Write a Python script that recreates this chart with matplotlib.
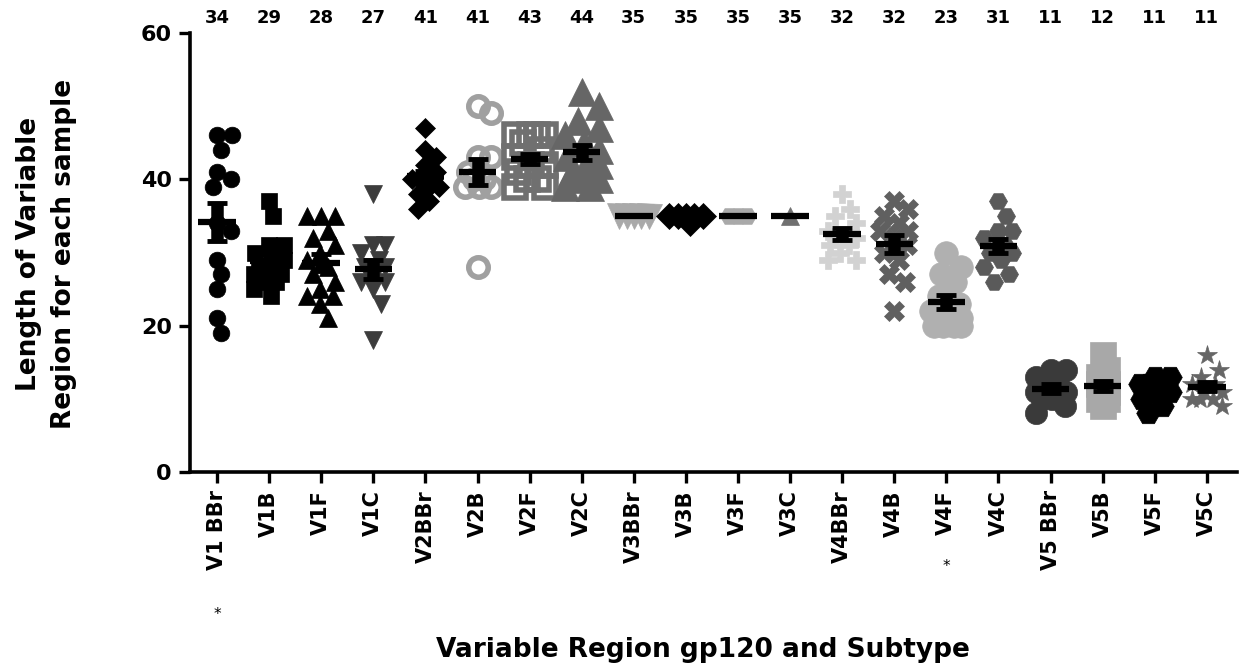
import numpy as np
import matplotlib
matplotlib.use("Agg")
import matplotlib.pyplot as plt
from matplotlib.transforms import blended_transform_factory

plt.rcParams['font.family'] = ['DejaVu Sans']

categories = ["V1 BBr", "V1B", "V1F", "V1C", "V2BBr", "V2B", "V2F", "V2C",
              "V3BBr", "V3B", "V3F", "V3C", "V4BBr", "V4B", "V4F", "V4C",
              "V5 BBr", "V5B", "V5F", "V5C"]
top_labels = ["34", "29", "28", "27", "41", "41", "43", "44", "35", "35",
              "35", "35", "32", "32", "23", "31", "11", "12", "11", "11"]

v1_bbr = [46, 46, 44, 41, 40, 39, 34, 33, 29, 27, 25, 21, 19]
v1_b = [37, 35, 31, 31, 30, 29, 29, 28, 28, 27, 27, 26, 26, 25, 24]
v1_f = [35, 35, 35, 33, 32, 31, 30, 29, 28, 27, 26, 25, 24, 24, 23, 21]
v1_c = [38, 31, 31, 30, 29, 28, 28, 27, 26, 26, 25, 23, 18]
v2_bbr = [47, 44, 43, 42, 41, 40, 40, 40, 40, 39, 39, 38, 37, 36]
v2_b = [50, 49, 43, 43, 41, 40, 40, 39, 39, 39, 28]
v2_f = [46, 46, 46, 46, 45, 44, 43, 42, 42, 41, 40, 40, 39, 39]
v2_c = [52, 50, 48, 47, 46, 45, 44, 43, 42, 42, 41, 41, 40, 40, 39, 39]
v3_bbr = [35, 35, 35, 35, 35]
v3_b = [35, 35, 35, 35, 35, 34]
v3_f = [35, 35, 35]
v3_c = [35]
v4_bbr = [38, 36, 35, 34, 33, 32, 32, 31, 31, 30, 29, 29]
v4_b = [37, 36, 35, 34, 33, 33, 32, 31, 30, 29, 27, 26, 22]
v4_f = [30, 28, 27, 26, 24, 23, 22, 21, 21, 20, 20, 20, 20]
v4_c = [37, 35, 33, 33, 32, 31, 30, 30, 29, 28, 27, 26]
v5_bbr = [14, 14, 13, 13, 12, 11, 11, 10, 10, 9, 8]
v5_b = [16, 14, 13, 12, 12, 11, 11, 10, 10, 9]
v5_f = [13, 13, 12, 12, 12, 11, 11, 10, 9, 8]
v5_c = [16, 14, 13, 12, 12, 11, 11, 10, 10, 10, 9]

series = [v1_bbr, v1_b, v1_f, v1_c, v2_bbr, v2_b, v2_f, v2_c,
          v3_bbr, v3_b, v3_f, v3_c, v4_bbr, v4_b, v4_f, v4_c,
          v5_bbr, v5_b, v5_f, v5_c]

# marker styles: (marker, size pt, colour, open?, max half-spread px)
styles = [
    ('o', 12, '#000000', False, 15), ('s', 12, '#000000', False, 15),
    ('^', 13, '#000000', False, 14), ('v', 13, '#3c3c3c', False, 12),
    ('D', 10, '#000000', False, 14), ('o', 14, '#a0a0a0', True, 13),
    ('s', 16, '#707070', True, 15), ('^', 20, '#666666', False, 17),
    ('v', 18, '#a9a9a9', False, 15), ('D', 13, '#000000', False, 17),
    ('H', 13, '#a9a9a9', False, 9), ('^', 13, '#707070', False, 0),
    ('P', 13, '#d2d2d2', False, 14), ('X', 14, '#606060', False, 14),
    ('o', 17, '#b0b0b0', False, 15), ('H', 13, '#5a5a5a', False, 14),
    ('o', 16, '#3a3a3a', False, 15), ('s', 19, '#a8a8a8', False, 4),
    ('H', 17, '#000000', False, 15), ('*', 15, '#666666', False, 15),
]

fig = plt.figure(figsize=(12.44, 6.68), dpi=100)
ax = fig.add_axes([0.1527, 0.2934, 0.8417, 0.6572])
xmin, xmax = -0.52, 19.58
ymin, ymax = 0, 60
ax.set_xlim(xmin, xmax)
ax.set_ylim(ymin, ymax)

ppx = ax.bbox.width / (xmax - xmin)
ppy = ax.bbox.height / (ymax - ymin)


def swarm(vals, dpx, lim, factor=0.9):
    """bounded beeswarm offsets in pixels"""
    order = np.argsort(-np.asarray(vals), kind='stable')
    placed = []
    offs = np.zeros(len(vals))
    mind = dpx * factor
    cands = [0.0]
    for k in range(1, int(lim) + 1):
        cands += [float(k), float(-k)]
    for idx in order:
        y = vals[idx] * ppy
        chosen = None
        best_score, best_x = -1, 0.0
        for x in cands:
            if placed:
                dmin = min(np.hypot(x - px, y - py) for px, py in placed)
            else:
                dmin = 1e9
            if dmin >= mind:
                chosen = x
                break
            if dmin > best_score + 1e-9:
                best_score, best_x = dmin, x
        if chosen is None:
            chosen = best_x
        placed.append((chosen, y))
        offs[idx] = chosen
    return offs


for i, (vals, st) in enumerate(zip(series, styles)):
    mk, ms, col, is_open, lim = st
    dpx = ms * 100 / 72.0
    offs = swarm(vals, dpx, lim) / ppx
    xs = i + offs
    if is_open:
        ax.plot(xs, vals, linestyle='none', marker=mk, markersize=ms,
                markerfacecolor='none', markeredgecolor=col,
                markeredgewidth=4, zorder=3, clip_on=False)
    else:
        ax.plot(xs, vals, linestyle='none', marker=mk, markersize=ms,
                markerfacecolor=col, markeredgecolor=col,
                markeredgewidth=0.5, zorder=3, clip_on=False)
    arr = np.asarray(vals, dtype=float)
    m = arr.mean()
    sem = arr.std(ddof=1) / np.sqrt(len(arr)) if len(arr) > 1 else 0.0
    ax.hlines(m, i - 0.36, i + 0.36, colors='black', linewidth=4.5, zorder=5)
    if sem > 0:
        ax.errorbar([i], [m], yerr=[sem], fmt='none', ecolor='black',
                    elinewidth=9, capsize=7, capthick=3.5, zorder=5)

# axes styling
for s in ['top', 'right']:
    ax.spines[s].set_visible(False)
for s in ['left', 'bottom']:
    ax.spines[s].set_linewidth(2.6)
    ax.spines[s].set_color('black')

ax.set_yticks([0, 20, 40, 60])
ax.set_yticklabels(["0", "20", "40", "60"], fontsize=16, fontweight='bold')
ax.set_xticks(range(len(categories)))
ax.set_xticklabels(categories, rotation=90, fontsize=15, fontweight='bold')
ax.tick_params(axis='both', direction='out', length=8, width=2.4, pad=5)

trans = blended_transform_factory(ax.transData, ax.transAxes)
for i, lab in enumerate(top_labels):
    ax.text(i, 1.034, lab, transform=trans, ha='center', va='center',
            fontsize=13, fontweight='bold')

# asterisks
ax.text(0, -0.325, "*", transform=trans, ha='center', va='center', fontsize=11)
ax.text(14, -0.215, "*", transform=trans, ha='center', va='center', fontsize=11)

fig.text(0.565, 0.027, "Variable Region gp120 and Subtype", ha='center',
         va='center', fontsize=19, fontweight='bold')
fig.text(0.037, 0.62, "Length of Variable\nRegion for each sample",
         rotation=90, ha='center', va='center', fontsize=19,
         fontweight='bold', multialignment='center', linespacing=1.45)

fig.savefig("out.png", dpi=100)
